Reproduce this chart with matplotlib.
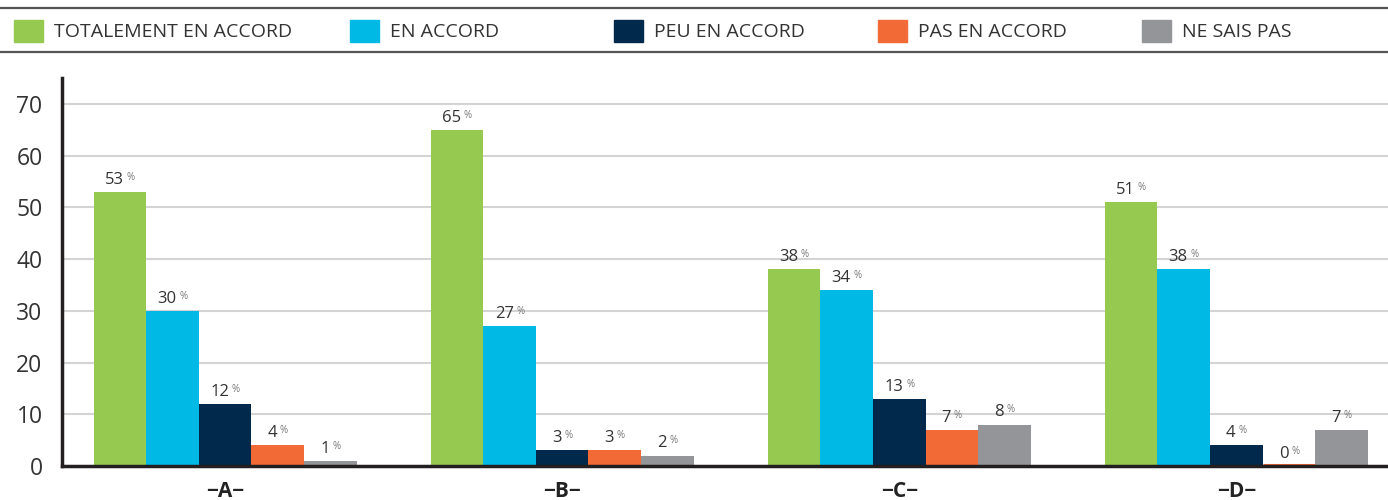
import matplotlib
matplotlib.use("Agg")
import matplotlib.pyplot as plt
from matplotlib.patches import Rectangle
from matplotlib.lines import Line2D
from matplotlib.offsetbox import TextArea, HPacker, AnnotationBbox
import numpy as np

groups = ["−A−", "−B−", "−C−", "−D−"]
series = ["TOTALEMENT EN ACCORD", "EN ACCORD", "PEU EN ACCORD", "PAS EN ACCORD", "NE SAIS PAS"]
totalement = [53, 65, 38, 51]
en_accord = [30, 27, 34, 38]
peu = [12, 3, 13, 4]
pas = [4, 3, 7, 0]
ne_sais = [1, 2, 8, 7]
values = [totalement, en_accord, peu, pas, ne_sais]
colors = ["#95C94F", "#00BAE5", "#00294B", "#F26A35", "#939598"]
yticks = [0, 10, 20, 30, 40, 50, 60, 70]

plt.rcParams['font.family'] = ['Open Sans', 'DejaVu Sans']

fig = plt.figure(figsize=(13.88, 5.0), dpi=100)
ax = fig.add_axes([62 / 1388, 34 / 500, 1 - 62 / 1388, 388 / 500])

x = np.arange(len(groups))
w = 0.156
for i, (vals, c) in enumerate(zip(values, colors)):
    pos = x + (i - 2) * w
    bars = ax.bar(pos, vals, width=w, color=c, linewidth=0, zorder=3)
    for b, v in zip(bars, vals):
        if v == 0:
            ax.plot([b.get_x(), b.get_x() + b.get_width()], [0.25, 0.25], color=c, lw=2.2, zorder=4,
                    solid_capstyle='butt')
        t1 = TextArea(str(v), textprops=dict(size=12, color="#333333"))
        t2 = TextArea("%", textprops=dict(size=7, color="#777777"))
        pack = HPacker(children=[t1, t2], align="top", pad=0, sep=2)
        ab = AnnotationBbox(pack, (b.get_x() + b.get_width() / 2, v), xybox=(0, 3),
                            boxcoords="offset points", box_alignment=(0.5, 0), frameon=False,
                            pad=0, zorder=5)
        ax.add_artist(ab)

ax.set_xlim(-0.484, 3.45)
ax.set_ylim(0, 75)
ax.set_yticks(yticks)
ax.set_yticklabels([str(t) for t in yticks], fontsize=16.5, color="#333333")
ax.set_xticks(x)
ax.set_xticklabels(groups, fontsize=15, fontweight="bold", color="#222222")
ax.tick_params(axis="y", length=0, pad=14)
ax.tick_params(axis="x", length=0, pad=11)
ax.yaxis.grid(True, color="#d4d4d4", linewidth=1.5, zorder=0)
ax.set_axisbelow(True)
for s in ["top", "right"]:
    ax.spines[s].set_visible(False)
ax.spines["left"].set_linewidth(2.5)
ax.spines["left"].set_color("#231f20")
ax.spines["bottom"].set_linewidth(2.5)
ax.spines["bottom"].set_color("#231f20")
ax.spines["bottom"].set_zorder(6)

# legend band
W, H = 1388, 500
for yy in [8, 52]:
    fig.add_artist(Line2D([0, 1], [1 - yy / H, 1 - yy / H], color="#555555", lw=1.6,
                          transform=fig.transFigure))
sq_x = [14, 350, 614, 878, 1142]
for sx, name, c in zip(sq_x, series, colors):
    fig.add_artist(Rectangle((sx / W, 1 - 42 / H), 29 / W, 22 / H, color=c,
                             transform=fig.transFigure))
    fig.text((sx + 40) / W, 1 - 32 / H, name, fontsize=14, color="#333333",
             va="center", ha="left")

fig.savefig("out.png", dpi=100)
